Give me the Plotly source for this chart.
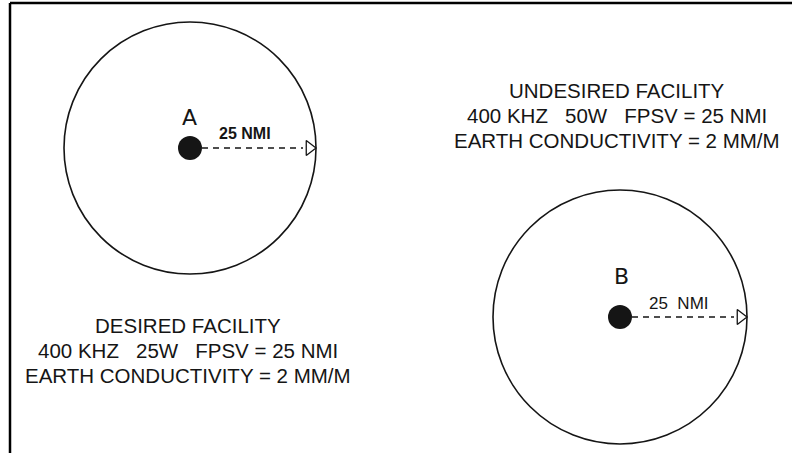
import plotly.graph_objects as go

# Facilities
names = ["A", "B"]
cx = [190, 620]
cy = [148, 317]
radius_px = [126, 127]
range_label = ["<b>25 NMI</b>", "25\u00a0\u00a0NMI"]
label_dy = [-31, -41]
range_dy = [-15, -14]
range_size = [16, 17]

desired_lines = ["DESIRED FACILITY",
                 "400 KHZ\u00a0\u00a0 25W\u00a0\u00a0 FPSV = 25 NMI",
                 "EARTH CONDUCTIVITY = 2 MM/M"]
undesired_lines = ["UNDESIRED FACILITY",
                   "400 KHZ\u00a0\u00a0 50W\u00a0\u00a0 FPSV = 25 NMI",
                   "EARTH CONDUCTIVITY = 2 MM/M"]

W, H = 792, 453
ink = "#151515"
font = "Liberation Sans, Arial, sans-serif"

fig = go.Figure()
shapes = []
annotations = []

# frame (top and left)
shapes.append(dict(type="line", x0=10, y0=3, x1=W, y1=3, line=dict(color="black", width=2.5)))
shapes.append(dict(type="line", x0=10, y0=3, x1=10, y1=H, line=dict(color="black", width=2.5)))

for i in range(len(names)):
    r = radius_px[i]
    shapes.append(dict(type="circle", x0=cx[i] - r, x1=cx[i] + r, y0=cy[i] - r, y1=cy[i] + r,
                       line=dict(color=ink, width=1.6)))
    # dashed radius
    fig.add_trace(go.Scatter(x=[cx[i] + 12, cx[i] + r - 13], y=[cy[i], cy[i]], mode="lines",
                             line=dict(color=ink, width=1.6, dash="6px,5px"), hoverinfo="skip"))
    # open arrow head
    fig.add_trace(go.Scatter(x=[cx[i] + r - 6.5], y=[cy[i]], mode="markers",
                             marker=dict(symbol="triangle-right-open", size=13,
                                         color=ink, line=dict(width=1.3, color=ink)),
                             hoverinfo="skip"))
    # station dot
    fig.add_trace(go.Scatter(x=[cx[i]], y=[cy[i]], mode="markers",
                             marker=dict(size=24, color=ink), hoverinfo="skip"))
    annotations.append(dict(x=cx[i] + (-1 if i == 0 else 1), y=cy[i] + label_dy[i], text=names[i],
                            showarrow=False,
                            font=dict(family="DejaVu Sans, sans-serif", size=22, color=ink),
                            xanchor="center", yanchor="middle"))
    annotations.append(dict(x=cx[i] + 27, y=cy[i] + range_dy[i], text=range_label[i], showarrow=False,
                            font=dict(family=font, size=range_size[i], color=ink),
                            xanchor="left", yanchor="middle"))

for j, t in enumerate(desired_lines):
    annotations.append(dict(x=188, y=325 + 25 * j, text=t, showarrow=False,
                            font=dict(family=font, size=20.5, color=ink),
                            xanchor="center", yanchor="middle"))
for j, t in enumerate(undesired_lines):
    annotations.append(dict(x=617, y=90 + 25 * j, text=t, showarrow=False,
                            font=dict(family=font, size=20.5, color=ink),
                            xanchor="center", yanchor="middle"))

fig.update_layout(
    width=W, height=H, margin=dict(l=0, r=0, t=0, b=0),
    paper_bgcolor="white", plot_bgcolor="white", showlegend=False,
    shapes=shapes, annotations=annotations,
    xaxis=dict(range=[0, W], visible=False, fixedrange=True),
    yaxis=dict(range=[H, 0], visible=False, fixedrange=True),
)
fig.write_html("out.html", config={"displayModeBar": False},
               post_script="document.body.style.margin='0';document.body.style.overflow='hidden';")
